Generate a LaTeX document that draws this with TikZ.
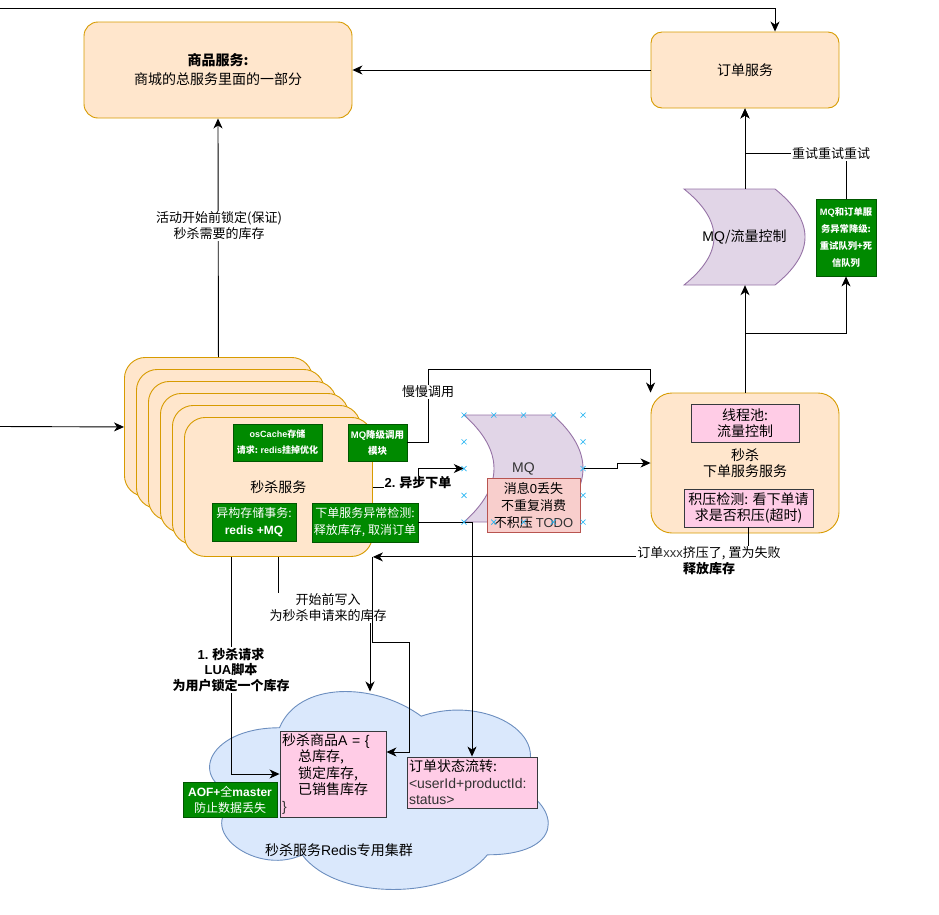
\documentclass[tikz,border=0pt]{standalone}
\usepackage{fontspec}
\setmainfont{Noto Sans CJK SC}
\newfontfamily\lat{Liberation Sans}
\usetikzlibrary{arrows.meta,calc}

\definecolor{orFill}{HTML}{FFE6CC}
\definecolor{orLine}{HTML}{D79B00}
\definecolor{grFill}{HTML}{008A00}
\definecolor{grLine}{HTML}{005700}
\definecolor{pkFill}{HTML}{FFCCE6}
\definecolor{pkLine}{HTML}{36393D}
\definecolor{rdFill}{HTML}{F8CECC}
\definecolor{rdLine}{HTML}{B85450}
\definecolor{puFill}{HTML}{E1D5E7}
\definecolor{puLine}{HTML}{9673A6}
\definecolor{blFill}{HTML}{DAE8FC}
\definecolor{blLine}{HTML}{6C8EBF}
\definecolor{txtGrey}{HTML}{333333}
\definecolor{handleBlue}{HTML}{29B6F2}

\newcommand{\fsz}[2]{\fontsize{#1}{#2}\selectfont}

\begin{document}
\begin{tikzpicture}[x=1pt,y=-1pt,
  orbox/.style={draw=orLine, fill=orFill, line width=0.9pt, align=center, inner sep=2pt},
  grbox/.style={draw=grLine, fill=grFill, text=white, align=center, inner sep=1pt, line width=0.8pt},
  pkbox/.style={draw=pkLine, fill=pkFill, line width=0.9pt, inner sep=1pt},
  rdbox/.style={draw=rdLine, fill=rdFill, line width=0.9pt, align=center, inner sep=1pt},
  store/.style={draw=puLine, fill=puFill, line width=0.9pt},
  cloudst/.style={draw=blLine, fill=blFill, line width=0.9pt},
  lbl/.style={fill=white, inner sep=1pt, align=center, font=\fsz{13}{16}},
  arr/.style={-{Stealth[length=10pt,width=9pt,inset=3pt]}, line width=0.9pt},
  ln/.style={line width=0.9pt},
  handle/.style={draw=handleBlue, line width=0.7pt}
]
\useasboundingbox (0,0) rectangle (939,914);

% ---------- top services ----------
\node[orbox, rounded corners=14pt, minimum width=268pt, minimum height=96pt, font=\fsz{14}{19}] (goods) at (218,70)
  {\textbf{商品服务:}\\商城的总服务里面的一部分};
\node[orbox, rounded corners=11pt, minimum width=188pt, minimum height=76pt, font=\fsz{14}{17}] (order) at (745,70) {订单服务};

% ---------- seckill service stack ----------
\foreach \i in {0,...,4}
  \node[orbox, rounded corners=21pt, minimum width=188pt, minimum height=139pt, anchor=north west]
    (s\i) at ({124+12*\i},{357+12*\i}) {};
\node[orbox, rounded corners=21pt, minimum width=188pt, minimum height=139pt, anchor=north west, font=\fsz{14}{17}]
  (seckill) at (184,417) {秒杀服务};

\node[grbox, minimum width=89pt, minimum height=37pt, font=\fsz{9}{16}\bfseries] (oscache) at (277.5,442.5)
  {{\lat osCache}存储\\请求: {\lat redis}挂掉优化};
\node[grbox, minimum width=59pt, minimum height=37pt, font=\fsz{9.5}{16}\bfseries] (mqdown) at (377.5,442.5)
  {{\lat MQ}降级调用\\模块};
\node[grbox, minimum width=84pt, minimum height=38pt, font=\fsz{12}{17}] (hetero) at (254,522)
  {异构存储事务:\\{\lat\bfseries redis +MQ}};
\node[grbox, minimum width=106pt, minimum height=39pt, font=\fsz{12}{17}] (excheck) at (365,522.5)
  {下单服务异常检测:\\释放库存, 取消订单};

% ---------- message queue ----------
\draw[store] (464,415) -- (553,415) .. controls (593,450.67) and (593,486.33) .. (553,522)
  -- (464,522) .. controls (504,486.33) and (504,450.67) .. (464,415) -- cycle;
\node[font=\fsz{14}{17}, text=txtGrey, minimum width=119pt, minimum height=107pt, inner sep=0] (mq) at (523.5,468.5) {{\lat MQ}};
\node[rdbox, minimum width=93pt, minimum height=54pt, font=\fsz{13}{17}] (guar) at (533.5,505)
  {消息{\lat 0}丢失\\不重复消费\\不积压 {\lat\color{txtGrey}TODO}};

% ---------- order placing service ----------
\node[orbox, rounded corners=21pt, minimum width=188pt, minimum height=140pt, font=\fsz{14}{16.5}] (xd) at (745,463)
  {秒杀\\下单服务服务};
\node[pkbox, align=center, minimum width=108pt, minimum height=38pt, font=\fsz{14}{16.5}] (pool) at (745,423)
  {线程池:\\流量控制};
\node[pkbox, align=center, minimum width=129pt, minimum height=38pt, font=\fsz{14}{16.5}] (jiya) at (748.5,508)
  {积压检测: 看下单请\\求是否积压(超时)};

% ---------- flow control queue and dead letter ----------
\draw[store] (684,189) -- (775,189) .. controls (815,221) and (815,253) .. (775,285)
  -- (684,285) .. controls (724,253) and (724,221) .. (684,189) -- cycle;
\node[font=\fsz{14}{17}, minimum width=121pt, minimum height=96pt, inner sep=0] (mqf) at (744.5,237) {{\lat MQ}/流量控制};
\node[grbox, minimum width=60pt, minimum height=77pt, font=\fsz{9.3}{17}\bfseries] (dlq) at (846,237.5)
  {{\lat MQ}和订单服\\务异常降级:\\重试队列+死\\信队列};

% ---------- redis cluster ----------
\draw[cloudst] (279.5,727.75) .. controls (203.9,727.75) and (185,785.5) .. (245.48,797.05)
  .. controls (185,822.46) and (253.04,877.9) .. (302.18,854.8)
  .. controls (336.2,901) and (449.6,901) .. (487.4,854.8)
  .. controls (563,854.8) and (563,808.6) .. (515.75,785.5)
  .. controls (563,739.3) and (487.4,693.1) .. (421.25,716.2)
  .. controls (374,681.55) and (298.4,681.55) .. (279.5,727.75) -- cycle;
\coordinate (redisTop) at (370,691.5);
\node[font=\fsz{14}{17}] (redis) at (339,850) {秒杀服务{\lat Redis}专用集群};
\node[pkbox, minimum width=106pt, minimum height=86pt, text width=102pt, align=left, font=\fsz{14}{16.5}] (item) at (333,774)
  {秒杀商品{\lat A = \{}\\\hspace*{16pt}总库存,\\\hspace*{16pt}锁定库存,\\\hspace*{16pt}已销售库存\\{\lat\color{txtGrey}\}}};
\node[pkbox, minimum width=130pt, minimum height=51pt, text width=126pt, align=left, font=\fsz{14}{16.5}] (ostatus) at (472,782.5)
  {订单状态流转:\\{\lat\color{txtGrey}<userId+productId:}\\{\lat\color{txtGrey}status>}};
\node[grbox, minimum width=94pt, minimum height=35pt, font=\fsz{12}{16}] (aof) at (230,799.5)
  {{\lat\bfseries AOF+}全{\lat\bfseries master}\\防止数据丢失};

% ---------- connectors ----------
\coordinate (inTop) at (0,8);
\coordinate (inLeft) at (0,426.5);
\draw[arr] (inTop) -| ([xshift=30pt]order.north);
\draw[arr] (inLeft) -- (s0.west);
\draw[arr] (order.west) -- (goods.east);
\draw[arr] (s0.north) -- (goods.south);

\draw[arr] (order.south |- mqf.north) -- (order.south);
\draw[arr] (dlq.north) -- ++(0,-45) -| (order.south);
\draw[arr] (xd.north) -- (xd.north |- mqf.south);
\draw[arr] (xd.north) -- ++(0,-59) -| (dlq.south);

\draw[arr] (mqdown.east) -- ++(21,0) |- ([yshift=23pt]xd.north west) -- (xd.north west);
\draw[arr] (seckill.east) -- ++(46,0) |- (mq.west);
\draw[arr] (mq.east) -- ++(34,0) |- (xd.west);

\draw[arr] (jiya.south) |- (seckill.south east);
\draw[arr] (excheck.east) -| (ostatus.north);
\draw[arr] ([xshift=-47pt]seckill.south) |- (item.west);
\draw[arr] (seckill.south) -- ++(0,51) -| (redisTop);

% ---------- connector labels ----------
\node[lbl] (lblLock) at (219,226) {活动开始前锁定(保证)\\秒杀需要的库存};
\node[lbl] (lblSlow) at (428,392) {慢慢调用};
\node[lbl, font=\fsz{13}{16}\bfseries] (lblAsync) at (418,483) {{\lat 2.} 异步下单};
\node[lbl] (lblWrite) at (328,608) {开始前写入\\为秒杀申请来的库存};
\node[lbl, font=\fsz{13}{15.5}\bfseries] (lblLua) at (231,670) {{\lat 1.} 秒杀请求\\{\lat LUA}脚本\\为用户锁定一个库存};
\node[lbl] (lblFail) at (709,561) {订单{\lat\color{txtGrey}xxx}挤压了, 置为失败\\\textbf{释放库存}};
\node[lbl] (lblRetry) at (831,154) {重试重试重试};

\draw[arr] (seckill.south east) -- ++(0,86) -- ++(37,0) |- ([yshift=22pt]item.east);

% ---------- selection handles on the queue ----------
\foreach \hx/\hy in {464/415, 493.75/415, 523.5/415, 553.25/415, 583/415,
                     464/441.75, 583/441.75, 464/468.5, 583/468.5, 464/495.25, 583/495.25,
                     464/522, 493.75/522, 523.5/522, 553.25/522, 583/522}
  \draw[handle] ({\hx-2.5},{\hy-2.5}) -- ({\hx+2.5},{\hy+2.5}) ({\hx-2.5},{\hy+2.5}) -- ({\hx+2.5},{\hy-2.5});
\end{tikzpicture}
\end{document}
